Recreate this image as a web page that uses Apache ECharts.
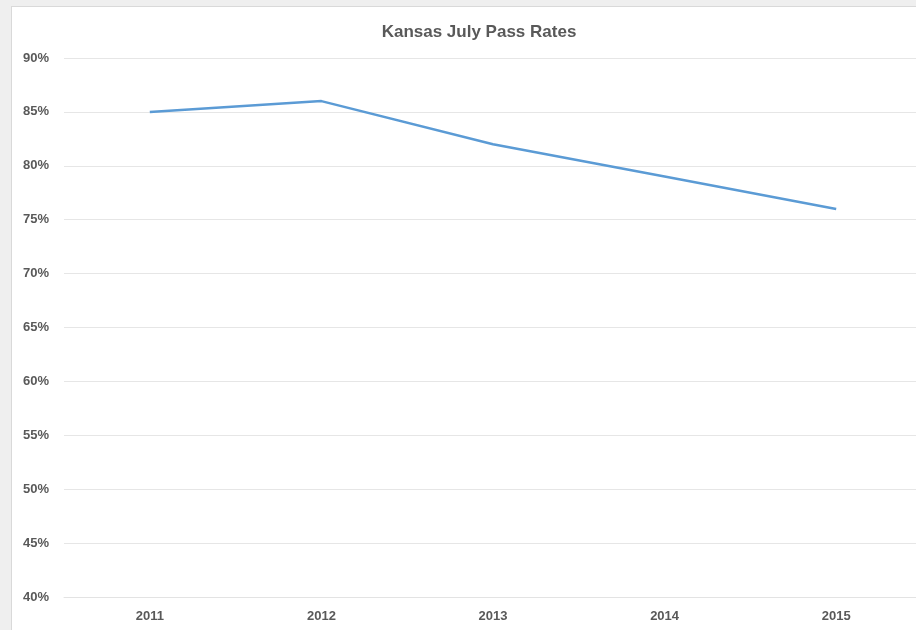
<!DOCTYPE html>
<html lang="en">
<head>
    <meta charset="UTF-8">
    <title>Kansas July Pass Rates</title>
    <script src="https://cdn.jsdelivr.net/npm/echarts@6.0.0/dist/echarts.min.js"></script>
    <style>
        html, body { margin: 0; padding: 0; width: 916px; height: 630px; overflow: hidden; background: #efefef; }
        #panel { position: absolute; left: 11px; top: 6px; width: 940px; height: 640px; background: #fff; border: 1px solid #d9d9d9; }
        #chart { position: absolute; left: 0; top: 0; width: 930px; height: 630px; }
    </style>
</head>
<body>
    <div id="panel"></div>
    <div id="chart"></div>
    <script>
        // 数据
        const years = ['2011', '2012', '2013', '2014', '2015'];
        const passRates = [85, 86, 82, 79, 76];

        const chart = echarts.init(document.getElementById('chart'));
        const grey = '#595959';

        chart.setOption({
            animation: false,
            title: {
                text: 'Kansas July Pass Rates',
                left: 474,
                top: 19,
                textAlign: 'center',
                textStyle: { color: grey, fontSize: 17, fontWeight: 'bold', fontFamily: 'Liberation Sans' }
            },
            grid: { left: 64, right: 8, top: 58, bottom: 33 },
            xAxis: {
                type: 'category',
                data: years,
                axisLine: { lineStyle: { color: '#e3e3e3' } },
                axisTick: { show: false },
                axisLabel: { color: grey, fontSize: 13, fontWeight: 'bold', fontFamily: 'Liberation Sans', margin: 13 }
            },
            yAxis: {
                type: 'value',
                min: 40,
                max: 90,
                interval: 5,
                axisLabel: { formatter: '{value}%', color: grey, fontSize: 13, fontWeight: 'bold', fontFamily: 'Liberation Sans', margin: 15 },
                splitLine: { lineStyle: { color: '#e6e6e6' } }
            },
            series: [{
                type: 'line',
                data: passRates,
                showSymbol: false,
                lineStyle: { color: '#5B9BD5', width: 2.5 }
            }]
        });
    </script>
</body>
</html>
